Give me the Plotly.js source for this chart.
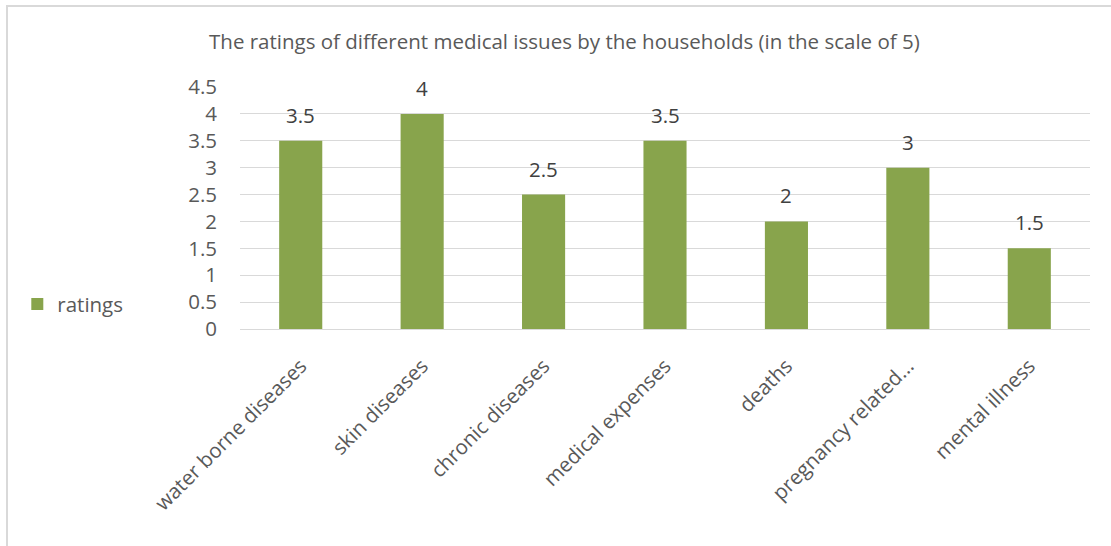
<!DOCTYPE html>
<html>
<head>
<meta charset="utf-8">
<script src="https://cdn.plot.ly/plotly-3.0.1.min.js"></script>
<style>
html,body{margin:0;padding:0;background:#fff;}
#wrap{position:relative;width:1111px;height:546px;overflow:hidden;}
#chart{position:absolute;left:0;top:0;width:1111px;height:546px;}
#frame{position:absolute;left:6px;top:5px;width:1200px;height:600px;border-left:2px solid #d9d9d9;border-top:2px solid #d9d9d9;pointer-events:none;}
</style>
</head>
<body>
<div id="wrap"><div id="chart"></div><div id="frame"></div></div>
<script>
const categories = ["water borne diseases","skin diseases","chronic diseases","medical expenses","deaths","pregnancy related...","mental illness"];
const ratings = [3.5, 4, 2.5, 3.5, 2, 3, 1.5];
const yTicks = [0,0.5,1,1.5,2,2.5,3,3.5,4,4.5];
const seriesName = "ratings";
const chartTitle = "The ratings of different medical issues by the households (in the scale of 5)";

const font = "Open Sans, sans-serif";
const fs = 20.5;
const annotations = categories.map((c,i)=>({
  x: c, y: ratings[i], xref:'x', yref:'y',
  text: String(ratings[i]), showarrow:false,
  yanchor:'bottom', yshift:10,
  font:{family:font,size:fs,color:'#404040'}
}));

Plotly.newPlot('chart', [{
  type:'bar', x:categories, y:ratings, name:seriesName,
  marker:{color:'#88A44C'}, showlegend:true
}], {
  width:1111, height:546,
  margin:{l:240,r:21,t:87,b:217},
  paper_bgcolor:'#fff', plot_bgcolor:'#fff',
  bargap:0.645,
  title:{text:chartTitle, x:0.508, xref:'container', y:0.923, yref:'container', yanchor:'middle',
    font:{family:font,size:fs,color:'#595959'}},
  xaxis:{type:'category', tickangle:-45, showgrid:false, showline:false, zeroline:false, ticks:'',
    ticklabelstandoff:20,
    tickfont:{family:font,size:fs,color:'#595959'}},
  yaxis:{range:[0,4.5], tickvals:yTicks, ticktext:yTicks.map(String), showgrid:true, gridcolor:'#d9d9d9', gridwidth:1,
    zeroline:true, zerolinecolor:'#d9d9d9', zerolinewidth:1, showline:false, ticks:'', ticklabelstandoff:22,
    tickfont:{family:font,size:fs,color:'#595959'}},
  legend:{x:-0.262, xanchor:'left', y:0.103, yanchor:'middle', font:{family:font,size:fs,color:'#595959'},
    itemwidth:30, bgcolor:'rgba(0,0,0,0)'},
  annotations:annotations
}, {displayModeBar:false, staticPlot:true});
</script>
</body>
</html>
